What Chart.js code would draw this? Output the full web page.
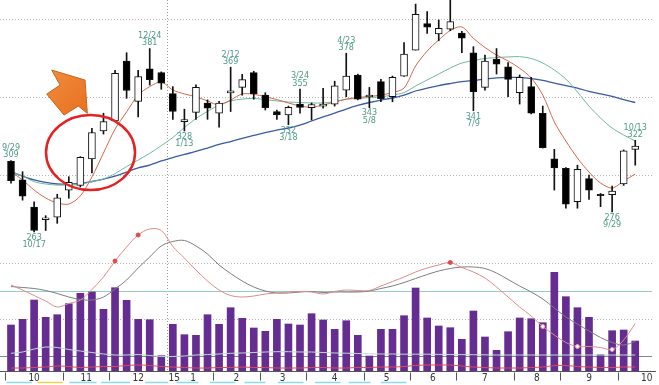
<!DOCTYPE html>
<html><head><meta charset="utf-8">
<script src="https://cdn.jsdelivr.net/npm/chart.js"></script>
<style>html,body{margin:0;padding:0;background:#fff;overflow:hidden}</style>
</head><body>
<canvas id="c" width="659" height="385" style="display:block"></canvas>
<script>
// ---- data (weekly, 2014-09-29 .. 2015-10-12) ----
const weeks = ['2014-09-29','2014-10-06','2014-10-13','2014-10-20','2014-10-27','2014-11-03','2014-11-10','2014-11-17','2014-11-24','2014-12-01','2014-12-08','2014-12-15','2014-12-22','2014-12-29','2015-01-05','2015-01-12','2015-01-19','2015-01-26','2015-02-02','2015-02-09','2015-02-16','2015-02-23','2015-03-02','2015-03-09','2015-03-16','2015-03-23','2015-03-30','2015-04-06','2015-04-13','2015-04-20','2015-04-27','2015-05-04','2015-05-11','2015-05-18','2015-05-25','2015-06-01','2015-06-08','2015-06-15','2015-06-22','2015-06-29','2015-07-06','2015-07-13','2015-07-20','2015-07-27','2015-08-03','2015-08-10','2015-08-17','2015-08-24','2015-08-31','2015-09-07','2015-09-14','2015-09-21','2015-09-28','2015-10-05','2015-10-12'];
const open  = [308.5,296.5,279,271,272.5,290,293,310,328,334.5,373,347,368,365.5,352,334,340,346,339.5,352.5,356,365.5,351,340.4,338.3,345.3,343,344,345.3,354.3,364,350,359.7,350,363.3,380,397,390.4,393.4,391,378.3,356,374,369.3,352.6,356.5,339.4,310,304,282.5,297.3,287.2,287,294,316.2];
const high  = [309,301.8,282.5,273.5,287.3,298.6,311.5,329.7,339.4,367,378.3,367,381,366,356.5,342,357.6,348,347,369,364.4,366.4,352.6,341.5,344,355,346,355.4,360,378,364.5,356,361.2,363.3,384.8,409.6,404.7,399.4,414,392,382.2,376.8,381,372,364,362.5,344,316.2,304.5,306,299.7,287.8,292.6,315.8,322];
const low   = [294.5,283.5,263,264,268.6,284.7,292,301,326,334,349,337,357.5,354.8,335.5,328,335.5,335.5,330.5,340.5,351,348.4,341.5,335.5,332,339.4,335,342.6,344,350,348,343,346.8,346.8,363,380,390.8,386,392.5,378.3,341,354.3,364.6,350,345.3,339,317,290,278.3,278.3,284,279.3,276,293,306];
const close = [296,286,264,272.2,285,295,311,327,334,365,354,363,361,358.7,340.5,335.3,356,342.6,346,353.8,361,352,343,338.5,343.2,343.2,345,345.3,357,363.3,348.5,351,348.7,362.5,377.5,403,394.7,394,398.3,387.6,353.2,373,371,361.2,362.5,339.4,317.2,304.2,281,303.3,290,286.4,289.4,315.3,318.3];
const ma13 = [301.8,296.5,290.0,284.9,281.7,281.0,286.2,298.4,313.8,329.2,340.2,351.1,356.5,359.5,354.3,351.8,350.0,347.3,344.7,347.9,351.8,351.6,350.0,348.2,346.0,344.1,343.2,344.7,346.6,348.5,349.5,350.2,351.1,352.7,355.6,369.8,379.4,386.5,392.6,394.9,387.6,381.7,376.8,373.0,368.3,362.1,351.1,333.8,321.5,310.6,301.6,294.5,291.3,295.8,300.3];
const ma26 = [301.8,299.0,295.4,293.9,293.2,293.2,293.6,295.5,297.1,300.6,305.1,309.3,313.6,318.6,323.8,330.2,336.0,340.6,344.7,347.3,348.5,348.9,348.2,347.3,346.6,346.3,346.0,346.0,346.9,348.4,348.9,349.5,350.0,351.1,352.7,356.9,360.8,364.6,368.5,371.7,373.3,374.6,375.2,375.6,375.8,374.6,371.7,367.2,361.4,353.1,344.0,336.3,329.9,325.4,321.5];
const ma52 = [301.8,299.0,296.5,294.9,293.9,293.9,294.2,295.5,297.1,299.0,301.6,304.2,306.1,308.7,310.9,312.9,314.8,317.0,319.3,321.2,323.2,325.1,327.0,328.6,329.9,331.8,334.4,337.0,339.5,342.1,344.4,346.3,347.9,349.2,351.1,353.7,355.6,357.2,358.5,359.7,360.5,361.4,362.1,362.4,362.4,361.7,360.5,358.8,357.2,355.6,353.4,351.8,350.2,348.2,346.3];
const volume = [460,517,710,537,563,673,777,790,617,833,707,517,513,153,467,363,357,563,467,633,527,430,397,517,470,460,573,510,417,503,357,150,417,417,553,830,530,450,433,317,600,340,207,393,530,523,483,987,743,633,537,163,403,410,300];
const volLineA = [177,190,220,240,235,215,200,185,170,160,160,165,155,145,145,150,160,165,170,177,180,185,190,193,193,190,190,185,180,178,175,172,170,170,168,168,168,166,165,164,163,162,160,160,160,160,160,160,160,160,160,160,160,160,160];
const volLineB = [30,30,35,40,50,45,35,40,45,45,55,60,55,45,40,35,30,30,35,35,40,35,35,30,30,30,35,35,30,30,35,35,40,40,45,55,60,60,60,50,40,35,30,30,30,35,40,55,55,45,40,35,35,40,40];
const macd   = [1.2,0.2,-0.9,-2.0,-3.2,-2.5,-1.8,0.3,2.8,6.0,8.8,11.2,12.4,12.1,8.9,6.6,4.2,2.0,0.2,-0.9,-1.2,-1.0,-0.6,-0.4,-0.2,-0.1,-0.2,-0.6,-0.1,0.2,0.1,0.1,1.0,1.9,2.8,3.8,4.6,5.2,5.7,4.7,3.8,2.6,0.8,-1.2,-3.2,-5.0,-7.1,-8.8,-10.3,-11.1,-11.1,-11.3,-11.7,-9.8,-6.5];
const signal = [0.9,0.7,0.5,0.1,-0.5,-1.2,-1.7,-1.8,-1.2,0.4,2.2,4.6,6.8,9.0,9.9,10.1,9.0,7.4,5.2,3.5,2.0,0.8,0,-0.4,-0.4,-0.2,-0.1,-0.3,-0.2,-0.2,-0.2,0,0.5,1.0,1.7,2.5,3.3,4.0,4.5,4.8,4.8,4.5,3.6,2.3,1.0,-0.2,-1.6,-3.4,-5.2,-6.6,-8.0,-9.3,-10.3,-10.8,-10.1];
const macdDotsRed = [9,11,38];
const macdDotsWhite = [46,49,52];
const monthLabels = ['10','11','12','1','2','3','4','5','6','7','8','9','10'];
const monthStarts = [0,5,9,14,18,22,26,31,35,39,44,48,53,58];
const yearLabel = '15';
const yearStartIdx = 14;
const priceGrid = [300,350,400];
const volGrid = [520,1080];
const volRef = 153;
const extremes = [
  {i:0,kind:'H',date:'9/29'},{i:2,kind:'L',date:'10/17'},{i:12,kind:'H',date:'12/24'},
  {i:15,kind:'L',date:'1/13'},{i:19,kind:'H',date:'2/12'},{i:24,kind:'L',date:'3/18'},
  {i:25,kind:'H',date:'3/24'},{i:29,kind:'H',date:'4/23'},{i:31,kind:'L',date:'5/8'},
  {i:40,kind:'L',date:'7/9'},{i:52,kind:'L',date:'9/29'},{i:54,kind:'H',date:'10/13'}
];
const strips = [[-0.4,1.8,'c'],[2.3,4.5,'y'],[5.05,7.4,'c'],[7.8,10.3,'c'],[11.6,13.6,'c'],[14.3,16.2,'c'],[17.2,19.4,'c'],[20.2,22,'c'],[23.1,25.3,'c'],[26.3,28.5,'c'],[29.2,31.1,'c'],[32,34.2,'c']];

// ---- build ----
const pts = arr => arr.map((v,i)=>({x:i,y:v}));
const FONT = '"Liberation Sans Narrow","DejaVu Sans Condensed","Liberation Sans",sans-serif';

const deco = {
  id:'deco',
  beforeDatasetsDraw(chart){
    const {ctx, scales:{x,y,yVol,yMacd}} = chart;
    const L=(a,b,c,d)=>{ctx.beginPath();ctx.moveTo(a,b);ctx.lineTo(c,d);ctx.stroke();};
    ctx.save(); ctx.lineWidth=1;
    ctx.setLineDash([1,2]); ctx.strokeStyle='#b5b5b5';
    priceGrid.forEach(p=>{const py=Math.round(y.getPixelForValue(p))+0.5; L(0,py,652,py);});
    volGrid.forEach(v=>{const py=Math.round(yVol.getPixelForValue(v))+0.5; L(0,py,652,py);});
    const vx=Math.round(x.getPixelForValue(yearStartIdx-0.5))+0.5;
    ctx.strokeStyle='#999'; L(vx,0,vx,yVol.getPixelForValue(0));
    ctx.setLineDash([]);
    ctx.strokeStyle='#94cfc4';
    let py=Math.round(yMacd.getPixelForValue(0))+0.5; L(0,py,652,py);
    ctx.strokeStyle='#7d8a86';
    py=Math.round(yVol.getPixelForValue(volRef))+0.5; L(0,py,652,py);
    ctx.restore();
  },
  afterDraw(chart){
    const {ctx, scales:{x,y,yVol}} = chart;
    const L=(a,b,c,d)=>{ctx.beginPath();ctx.moveTo(a,b);ctx.lineTo(c,d);ctx.stroke();};
    ctx.save();
    const ay=Math.round(yVol.getPixelForValue(0))+0.5;
    ctx.strokeStyle='#555'; ctx.lineWidth=1; L(0,ay,656,ay);
    ctx.fillStyle='#333'; ctx.font='10px '+FONT; ctx.textAlign='center'; ctx.textBaseline='middle';
    for(let k=0;k<monthLabels.length;k++){
      const sx=Math.round(x.getPixelForValue(monthStarts[k]-0.5))+0.5;
      if(k!==3){ ctx.strokeStyle='#555'; L(sx,ay+1,sx,ay+9); }
      const cx=x.getPixelForValue((monthStarts[k]+monthStarts[k+1]-1)/2);
      ctx.fillText(monthLabels[k], k===3?cx+3:cx, ay+7);
    }
    ctx.textAlign='left';
    ctx.fillText(yearLabel, x.getPixelForValue(yearStartIdx-0.5)+1.5, ay+7);
    ctx.lineWidth=1.5;
    strips.forEach(s=>{ctx.strokeStyle = s[2]==='y'?'#f0d24a':'#8fdbe5';
      L(x.getPixelForValue(s[0]),ay+11,x.getPixelForValue(s[1]),ay+11);});
    ctx.fillStyle='#4f9c86'; ctx.font='9px '+FONT; ctx.textAlign='center';
    extremes.forEach(e=>{
      const px=x.getPixelForValue(e.i);
      if(e.kind==='H'){const hy=y.getPixelForValue(high[e.i]);
        ctx.fillText(e.date,px,hy-13); ctx.fillText(String(Math.round(high[e.i])),px,hy-5.5);}
      else {const ly=y.getPixelForValue(low[e.i]);
        ctx.fillText(String(Math.round(low[e.i])),px,ly+5.5); ctx.fillText(e.date,px,ly+12.8);}
    });
    const ex=x.getPixelForValue(6.88), ey=y.getPixelForValue(314.1);
    ctx.strokeStyle='#e32323'; ctx.lineWidth=2.5;
    ctx.beginPath(); ctx.ellipse(ex,ey,44.5,37.5,0,0,Math.PI*2); ctx.stroke();
    const ox=ex, oy=ey;
    const A=[[85,80],[51.7,70],[60,85],[46.7,94],[64,115],[78.3,106],[87.3,113.3]].map(p=>[p[0]-90.5+ox,p[1]-152.5+oy]);
    ctx.beginPath(); A.forEach((p,k)=>k?ctx.lineTo(p[0],p[1]):ctx.moveTo(p[0],p[1])); ctx.closePath();
    const g=ctx.createLinearGradient(ox-40,oy-80,ox,oy-40); g.addColorStop(0,'#f08a3c'); g.addColorStop(1,'#e8701e');
    ctx.fillStyle=g; ctx.fill(); ctx.strokeStyle='#c9641f'; ctx.lineWidth=1; ctx.stroke();
    ctx.restore();
  }
};

new Chart(document.getElementById('c'), {
  data:{ datasets:[
    {type:'bar', label:'Volume', data:pts(volume), yAxisID:'yVol', backgroundColor:'#652d92', barThickness:7, grouped:false, order:20},
    {type:'line', data:pts(volLineA), yAxisID:'yVol', borderColor:'#c2d8d0', borderWidth:1, pointRadius:0, tension:0.3, order:19},
    {type:'line', data:pts(volLineB), yAxisID:'yVol', borderColor:'#e04a4a', borderWidth:1, pointRadius:0, tension:0.3, order:18},
    {type:'line', label:'Signal', data:pts(signal), yAxisID:'yMacd', borderColor:'#7d7d7d', borderWidth:1, pointRadius:0, tension:0.35, order:15},
    {type:'line', label:'MACD', data:pts(macd), yAxisID:'yMacd', borderColor:'#e08a8a', borderWidth:1, tension:0.35, order:14,
      pointRadius: macd.map((v,i)=> (macdDotsRed.includes(i)||macdDotsWhite.includes(i))?2:0),
      pointBackgroundColor: macd.map((v,i)=> macdDotsWhite.includes(i)?'#ffffff':'#e04848'),
      pointBorderColor: macd.map((v,i)=> macdDotsWhite.includes(i)?'#e8a0a0':'#e04848'), pointBorderWidth:1},
    {type:'line', label:'MA52', data:pts(ma52), yAxisID:'y', borderColor:'#3a5ba6', borderWidth:1.3, pointRadius:0, tension:0.3, order:12},
    {type:'line', label:'MA26', data:pts(ma26), yAxisID:'y', borderColor:'#6db8a0', borderWidth:1, pointRadius:0, tension:0.3, order:11},
    {type:'line', label:'MA13', data:pts(ma13), yAxisID:'y', borderColor:'#d4674b', borderWidth:1, pointRadius:0, tension:0.3, order:10},
    {type:'bar', label:'Wick', data:low.map((l,i)=>({x:i,y:[l,high[i]]})), yAxisID:'y', backgroundColor:'#111', barThickness:1, grouped:false, order:5},
    {type:'bar', label:'Body', data:open.map((o,i)=>({x:i,y:[o,close[i]]})), yAxisID:'y', grouped:false, order:4,
      barThickness:7, borderWidth:1, borderSkipped:false, borderColor:'#111',
      backgroundColor: open.map((o,i)=> close[i]>=o ? '#ffffff' : '#000000')}
  ]},
  options:{
    responsive:false, animation:false, devicePixelRatio:1,
    layout:{padding:0},
    plugins:{legend:{display:false}, tooltip:{enabled:false}},
    scales:{
      x:{type:'linear', min:-0.9516, max:56.055, offset:false, display:false},
      y:{min:164.63, max:412.22, display:false},
      yVol:{min:-140, max:3710, display:false},
      yMacd:{min:-18.8, max:58.2, display:false}
    }
  },
  plugins:[deco]
});
</script>
</body></html>
